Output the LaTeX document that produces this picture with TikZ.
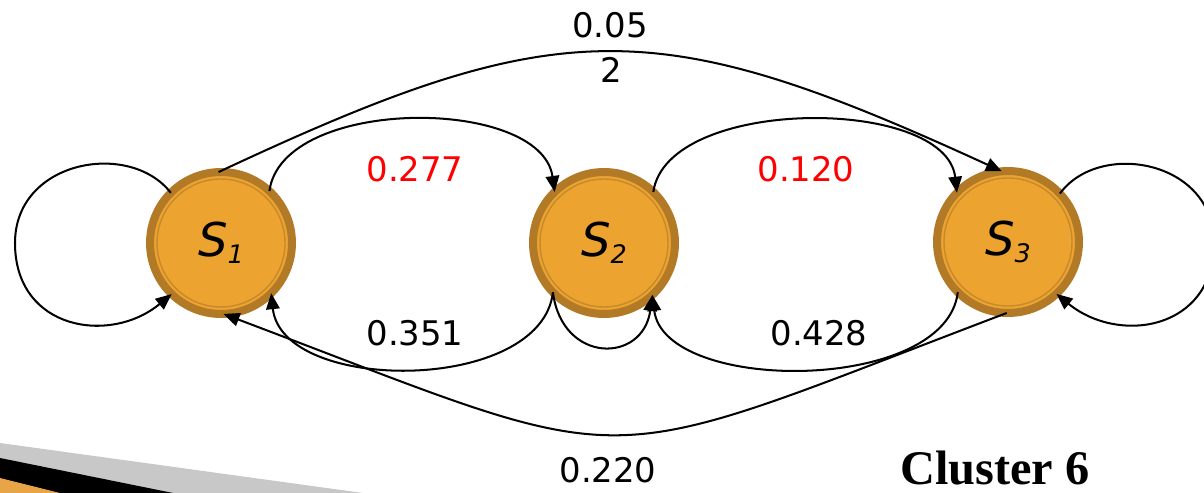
\documentclass[tikz,border=0pt]{standalone}
\usepackage{fontspec}
\setmainfont{DejaVu Sans}
\newfontfamily\clusterfont{Liberation Serif}
\usetikzlibrary{arrows.meta}
\definecolor{stfill}{HTML}{EDA32F}
\definecolor{stband}{HTML}{B27A26}
\definecolor{ringcol}{HTML}{C58A2C}
\definecolor{decogray}{HTML}{C8C8C8}
\definecolor{decoorange}{HTML}{E9A545}
\begin{document}
\begin{tikzpicture}[x=0.02cm,y=-0.02cm,
  state/.style={circle, minimum size=2.84cm, inner sep=0pt, outer sep=0pt, fill=stfill, draw=stband, line width=0.16cm, font=\fontsize{26.5}{30}\selectfont\itshape},
  ring/.style={draw=ringcol, line width=0.028cm},
  edge/.style={line width=1.15pt, -{Triangle[length=0.32cm,width=0.27cm]}},
  lab/.style={font=\fontsize{19.3}{23}\selectfont, anchor=base, inner sep=0pt},
  hot/.style={lab, text=red}]
\useasboundingbox (0,0) rectangle (1204,493);
\clip (0,0) rectangle (1204,493);
% slide decoration, bottom left
\fill[decogray] (0,443) -- (363,493) -- (0,493) -- cycle;
\fill[black] (0,458) -- (173,493) -- (0,493) -- cycle;
\fill[decoorange] (0,478) -- (60,493) -- (0,493) -- cycle;
% states
\node[state] (s1) at (221,243) {S\raisebox{-4pt}{\fontsize{14.5}{16}\selectfont 1}};
\node[state] (s2) at (604,243) {S\raisebox{-4pt}{\fontsize{14.5}{16}\selectfont 2}};
\node[state] (s3) at (1008,242) {S\raisebox{-4pt}{\fontsize{14.5}{16}\selectfont 3}};
\draw[ring] (s1.center) circle[radius=1.28cm];
\draw[ring] (s2.center) circle[radius=1.28cm];
\draw[ring] (s3.center) circle[radius=1.28cm];
% edges
\draw[edge] (s1.135) .. controls (130,140) and (15,160) .. (15,243) .. controls (15,330) and (110,345) .. (s1.226);
\draw[edge] (s1.47) .. controls (282,96) and (541,96) .. (s2.134);
\draw[edge] (s2.224) .. controls (541,394) and (282,394) .. (s1.315);
\draw[edge] (s2.224) .. controls (562,364) and (643,364) .. (s2.313);
\draw[edge] (s2.46) .. controls (667,96) and (946,96) .. (s3.136);
\draw[edge] (s3.225) .. controls (946,394) and (664,394) .. (s2.313);
\draw[edge] (s1.92) .. controls (560,12) and (655,12) .. (s3.95);
\draw[edge] (s3.269) .. controls (580,475) and (650,475) .. (s1.272);
\draw[edge] (s3.43) .. controls (1099,140) and (1214,160) .. (1214,243) .. controls (1214,330) and (1119,345) .. (s3.313);
% labels
\node[hot] (l12) at (415,182) {0.277};
\node[hot] (l23) at (806,182) {0.120};
\node[lab] (l21) at (415,345) {0.351};
\node[lab] (l32) at (819,345) {0.428};
\node[lab] (l13a) at (610,38) {0.05};
\node[lab] (l13b) at (611,83) {2};
\node[lab] (l31) at (608,482) {0.220};
\node[font=\clusterfont\bfseries\fontsize{27.5}{30}\selectfont, anchor=base west, inner sep=0pt, text depth=0pt] (title) at (900,484) {Cluster 6};
\end{tikzpicture}
\end{document}
